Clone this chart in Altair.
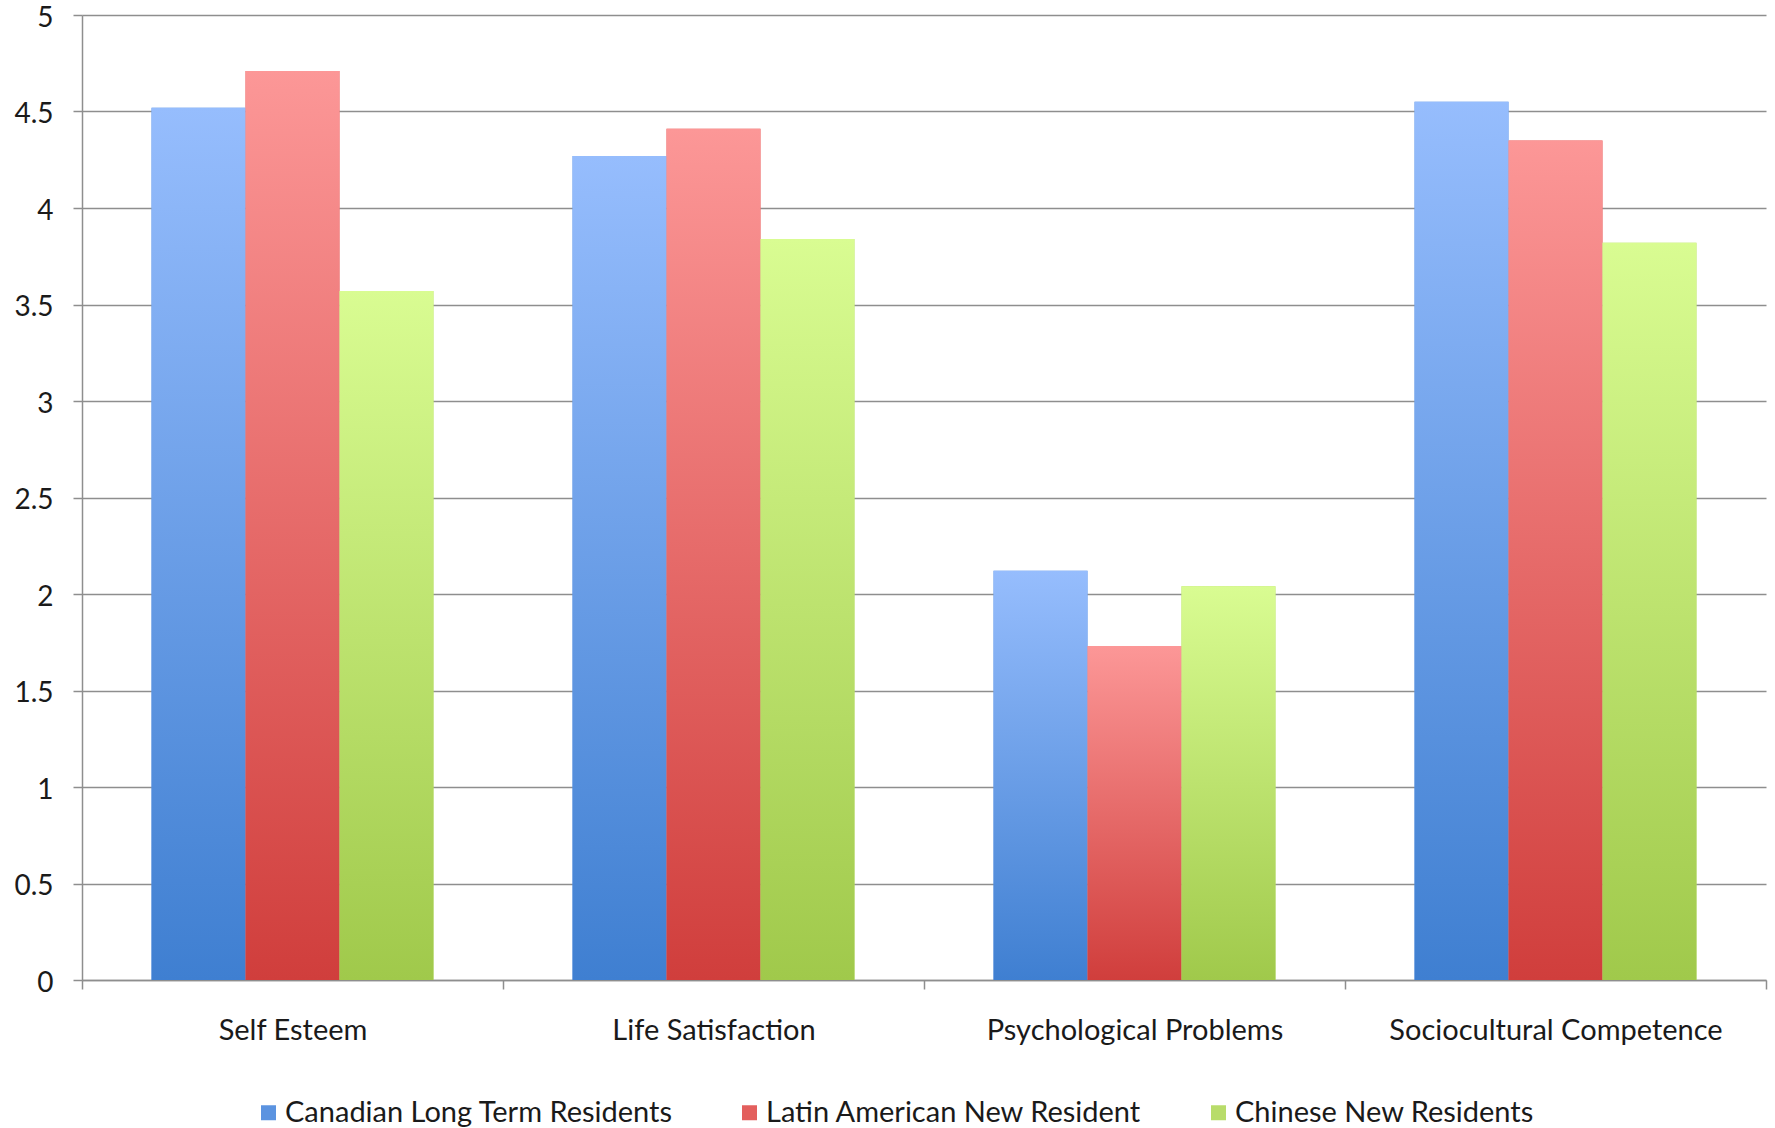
import altair as alt
import pandas as pd

# Mean scores by measure and resident group
measures = ["Self Esteem", "Life Satisfaction", "Psychological Problems", "Sociocultural Competence"]
groups = ["Canadian Long Term Residents", "Latin American New Resident", "Chinese New Residents"]
canadian = [4.52, 4.27, 2.12, 4.55]
latin = [4.71, 4.41, 1.73, 4.35]
chinese = [3.57, 3.84, 2.04, 3.82]

# Gradient stops (top, bottom) for each group's bars
grad_top = ["#96bdfd", "#fc9797", "#d9fc92"]
grad_bottom = ["#3f7fd1", "#d03e3c", "#a0c94b"]
legend_colors = ["#5b93e0", "#e35f5d", "#b8dc6a"]

rows = []
for g, vals in zip(groups, [canadian, latin, chinese]):
    for m, v in zip(measures, vals):
        rows.append({"measure": m, "group": g, "score": v})
df = pd.DataFrame(rows)

FONT = "Lato"
GRID = "#8e8e8e"

x_enc = alt.X(
    "measure:N",
    sort=measures,
    title=None,
    scale=alt.Scale(paddingInner=0, paddingOuter=0),
    axis=alt.Axis(
        labelAngle=0,
        labelFontSize=29,
        labelFont=FONT,
        labelColor="#1a1a1a",
        labelPadding=27,
        labelLimit=0,
        tickBand="extent",
        tickSize=9,
        tickColor=GRID,
        tickWidth=1.5,
        domainColor=GRID,
        domainWidth=1.5,
        grid=False,
    ),
)
xoff_enc = alt.XOffset(
    "group:N",
    sort=groups,
    scale=alt.Scale(domain=groups, paddingInner=0, paddingOuter=0.74),
)
y_enc = alt.Y(
    "score:Q",
    title=None,
    scale=alt.Scale(domain=[0, 5], nice=False),
    axis=alt.Axis(
        values=[0, 0.5, 1, 1.5, 2, 2.5, 3, 3.5, 4, 4.5, 5],
        labelExpr="datum.value",
        labelFontSize=28,
        labelFont=FONT,
        labelColor="#1a1a1a",
        labelPadding=20,
        labelOffset=3,
        tickSize=9,
        tickColor=GRID,
        tickWidth=1.5,
        gridColor=GRID,
        gridWidth=1.5,
        domainColor=GRID,
        domainWidth=1.5,
    ),
)

base = alt.Chart(df).mark_bar().encode(
    x=x_enc,
    xOffset=xoff_enc,
    y=y_enc,
    color=alt.Color(
        "group:N",
        sort=groups,
        scale=alt.Scale(domain=groups, range=legend_colors),
        legend=alt.Legend(
            title=None,
            orient="none",
            direction="horizontal",
            legendX=172,
            legendY=1083,
            symbolType="square",
            symbolSize=225,
            symbolStrokeWidth=0,
            labelFontSize=29,
            labelFont=FONT,
            labelColor="#1a1a1a",
            labelOffset=2,
            labelLimit=0,
            columnPadding=62,
            padding=0,
        ),
    ),
)

layers = [base]
for g, top, bottom in zip(groups, grad_top, grad_bottom):
    grad = alt.LinearGradient(
        gradient="linear",
        stops=[alt.GradientStop(color=top, offset=0), alt.GradientStop(color=bottom, offset=1)],
        x1=0, x2=0, y1=0, y2=1,
    )
    layers.append(
        alt.Chart(df)
        .transform_filter(alt.datum.group == g)
        .mark_bar(color=grad)
        .encode(x=x_enc, xOffset=xoff_enc, y=y_enc)
    )

chart = (
    alt.layer(*layers)
    .properties(
        width=1684,
        height=965,
        autosize=alt.AutoSizeParams(type="none"),
        padding={"left": 82, "top": 15, "right": 9, "bottom": 148},
        background="white",
    )
    .configure_view(stroke=None)
)

chart.save("out.html", embed_options={"renderer": "svg", "actions": False})
